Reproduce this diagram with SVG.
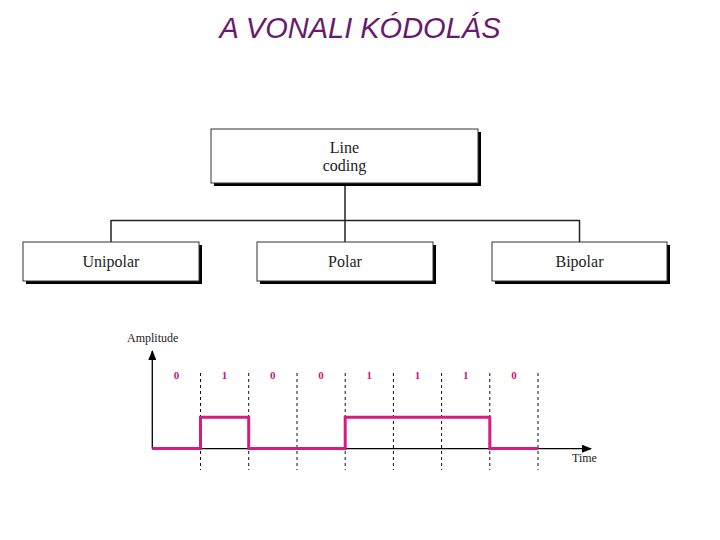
<svg xmlns="http://www.w3.org/2000/svg" width="720" height="540" viewBox="0 0 720 540">
<defs>
<style>
.box{fill:#fff;stroke:#333;stroke-width:1}
.shadow{fill:#000}
.lbl{font-family:"Liberation Serif","Times New Roman",serif;font-size:16px;fill:#222;text-anchor:middle}
.conn{stroke:#222;stroke-width:1.5;fill:none}
.dash{stroke:#111;stroke-width:1;stroke-dasharray:3,3}
.bit{font-family:"Liberation Serif","Times New Roman",serif;font-size:11px;font-weight:bold;fill:#c2187a;text-anchor:middle}
.ax{font-family:"Liberation Serif","Times New Roman",serif;font-size:12px;fill:#222}
</style>
<marker id="arr" markerWidth="10" markerHeight="8" refX="9" refY="4" orient="auto" markerUnits="userSpaceOnUse">
<path d="M0,0 L10,4 L0,8 Z" fill="#000"/>
</marker>
</defs>
<rect width="720" height="540" fill="#fff"/>
<text x="360" y="38" font-family="'Liberation Sans',Arial,sans-serif" font-size="29" font-style="italic" fill="#6a1a6e" text-anchor="middle">A VONALI KÓDOLÁS</text>

<g id="connectors">
<line class="conn" x1="345" y1="186" x2="345" y2="242"/>
<line class="conn" x1="111" y1="220.5" x2="579.5" y2="220.5"/>
<line class="conn" x1="111" y1="220" x2="111" y2="242"/>
<line class="conn" x1="579.5" y1="220" x2="579.5" y2="242"/>
</g>

<g id="line-coding">
<rect class="shadow" x="214" y="132" width="267" height="54"/>
<rect class="box" x="211" y="129" width="267" height="54"/>
<text class="lbl" x="344.5" y="153">Line</text>
<text class="lbl" x="344.5" y="171">coding</text>
</g>
<g id="unipolar">
<rect class="shadow" x="26" y="245" width="176" height="39"/>
<rect class="box" x="23" y="242" width="176" height="39"/>
<text class="lbl" x="111" y="267">Unipolar</text>
</g>
<g id="polar">
<rect class="shadow" x="260" y="245" width="176" height="39"/>
<rect class="box" x="257" y="242" width="176" height="39"/>
<text class="lbl" x="345" y="267">Polar</text>
</g>
<g id="bipolar">
<rect class="shadow" x="495" y="245" width="175" height="39"/>
<rect class="box" x="492" y="242" width="175" height="39"/>
<text class="lbl" x="579.5" y="267">Bipolar</text>
</g>

<g id="chart">
<line x1="152.3" y1="448.7" x2="152.3" y2="351" stroke="#000" stroke-width="1.3" marker-end="url(#arr)"/>
<line x1="152.3" y1="448.7" x2="591" y2="448.7" stroke="#000" stroke-width="1.3" marker-end="url(#arr)"/>
<text class="ax" x="127" y="342">Amplitude</text>
<text class="ax" x="572" y="462">Time</text>
<g>
<line class="dash" x1="200.5" y1="373" x2="200.5" y2="470"/>
<line class="dash" x1="248.7" y1="373" x2="248.7" y2="470"/>
<line class="dash" x1="297" y1="373" x2="297" y2="470"/>
<line class="dash" x1="345.2" y1="373" x2="345.2" y2="470"/>
<line class="dash" x1="393.4" y1="373" x2="393.4" y2="470"/>
<line class="dash" x1="441.6" y1="373" x2="441.6" y2="470"/>
<line class="dash" x1="489.8" y1="373" x2="489.8" y2="470"/>
<line class="dash" x1="538" y1="373" x2="538" y2="470"/>
</g>
<text class="bit" x="176.5" y="379">0</text>
<text class="bit" x="224.6" y="379">1</text>
<text class="bit" x="272.8" y="379">0</text>
<text class="bit" x="321.1" y="379">0</text>
<text class="bit" x="369.3" y="379">1</text>
<text class="bit" x="417.5" y="379">1</text>
<text class="bit" x="465.7" y="379">1</text>
<text class="bit" x="513.9" y="379">0</text>
<polyline points="152.3,448.5 200.5,448.5 200.5,417.3 248.7,417.3 248.7,448.5 345.2,448.5 345.2,417.3 489.8,417.3 489.8,448.5 538,448.5" fill="none" stroke="#d81b7f" stroke-width="3"/>
</g>
</svg>
